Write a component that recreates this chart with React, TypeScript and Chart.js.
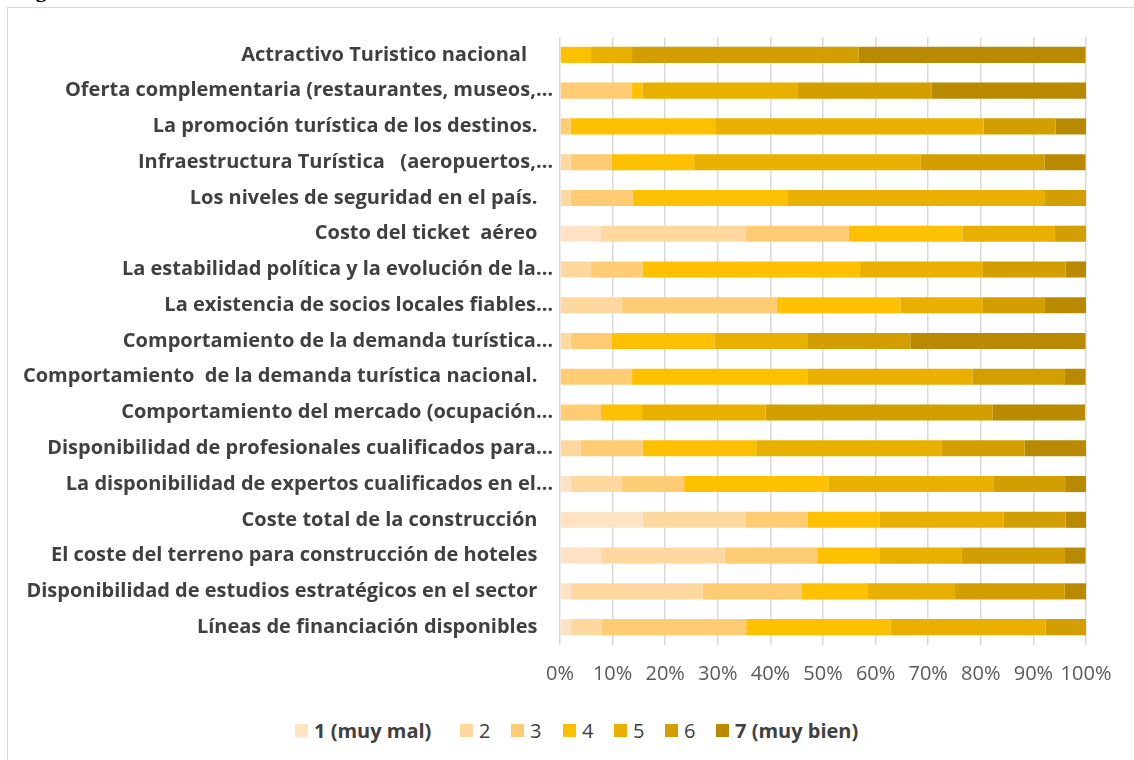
import React, { useEffect, useRef } from "react";
import { Chart, registerables } from "chart.js";

Chart.register(...registerables);

const categories = [
  "Actractivo Turistico nacional     ",
  "Oferta complementaria (restaurantes, museos,…",
  "La promoción turística de los destinos.   ",
  "Infraestructura Turística   (aeropuertos,…",
  "Los niveles de seguridad en el país.   ",
  "Costo del ticket  aéreo   ",
  "La estabilidad política y la evolución de la…",
  "La existencia de socios locales fiables…",
  "Comportamiento de la demanda turística…",
  "Comportamiento  de la demanda turística nacional.   ",
  "Comportamiento del mercado (ocupación…",
  "Disponibilidad de profesionales cualificados para…",
  "La disponibilidad de expertos cualificados en el…",
  "Coste total de la construcción   ",
  "El coste del terreno para construcción de hoteles   ",
  "Disponibilidad de estudios estratégicos en el sector   ",
  "Líneas de financiación disponibles   ",
];

const seriesNames = ["1 (muy mal)", "2", "3", "4", "5", "6", "7 (muy bien)"];

const s1 = [0, 0, 0, 0, 0, 7.8, 0, 0, 0, 0, 0, 0, 2.0, 15.7, 7.8, 2.1, 2.0];
const s2 = [0, 0, 0, 2.0, 2.0, 27.5, 5.9, 11.8, 2.0, 0, 0, 3.9, 9.8, 19.6, 23.5, 25.0, 5.9];
const s3 = [0, 13.7, 2.0, 7.8, 11.8, 19.6, 9.8, 29.4, 7.8, 13.7, 7.8, 11.8, 11.8, 11.8, 17.6, 18.8, 27.5];
const s4 = [5.9, 2.0, 27.5, 15.7, 29.4, 21.6, 41.2, 23.5, 19.6, 33.3, 7.8, 21.6, 27.5, 13.7, 11.8, 12.5, 27.5];
const s5 = [7.8, 29.4, 51.0, 43.1, 49.0, 17.6, 23.5, 15.7, 17.6, 31.4, 23.5, 35.3, 31.4, 23.5, 15.7, 16.7, 29.4];
const s6 = [43.1, 25.5, 13.7, 23.5, 7.8, 5.9, 15.7, 11.8, 19.6, 17.6, 43.1, 15.7, 13.7, 11.8, 19.6, 20.8, 7.8];
const s7 = [43.1, 29.4, 5.9, 7.8, 0, 0, 3.9, 7.8, 33.3, 3.9, 17.6, 11.8, 3.9, 3.9, 3.9, 4.2, 0];

const seriesValues = [s1, s2, s3, s4, s5, s6, s7];
const colors = ["#FFE3C4", "#FFD8A0", "#FFCC73", "#FFC000", "#E9B000", "#D29E00", "#B98A00"];

const xTicks = [0, 10, 20, 30, 40, 50, 60, 70, 80, 90, 100];

const legendLefts = [295, 460, 511, 563, 614, 665, 716];

export default function App() {
  const ref = useRef<HTMLCanvasElement | null>(null);

  useEffect(() => {
    if (!ref.current) return;
    const chart = new Chart(ref.current, {
      type: "bar",
      data: {
        labels: categories,
        datasets: seriesValues.map((vals, i) => ({
          label: seriesNames[i],
          data: vals,
          backgroundColor: colors[i],
          borderWidth: 0,
          categoryPercentage: 0.5,
          barPercentage: 0.9,
        })),
      },
      options: {
        indexAxis: "y",
        responsive: false,
        animation: false,
        layout: { padding: { top: 37, left: 0, right: 48, bottom: 0 } },
        plugins: {
          legend: { display: false },
          tooltip: { enabled: false },
        },
        scales: {
          x: {
            stacked: true,
            min: 0,
            max: 100,
            afterBuildTicks: (scale: any) => {
              scale.ticks = xTicks.map((v) => ({ value: v }));
            },
            afterFit: (scale: any) => {
              scale.height = 55;
            },
            grid: { color: "#D9D9D9", lineWidth: 1.5, drawTicks: false },
            border: { display: false },
            ticks: {
              autoSkip: false,
              maxRotation: 0,
              minRotation: 0,
              padding: 17,
              color: "#595959",
              font: { family: "'Open Sans'", size: 20 },
              callback: (v: any) => v + "%",
            },
          },
          y: {
            stacked: true,
            afterFit: (scale: any) => {
              scale.width = 560;
            },
            grid: { display: false, drawTicks: false },
            border: { display: false },
            ticks: {
              autoSkip: false,
              padding: 7,
              color: "#404040",
              font: { family: "'Open Sans'", size: 20, weight: "bold" },
            },
          },
        },
      },
    });
    return () => chart.destroy();
  }, []);

  return (
    <div style={{ position: "absolute", left: 0, top: 0, width: 1134, height: 760, overflow: "hidden", background: "#fff" }}>
      <span
        style={{
          position: "absolute",
          left: 16,
          top: -22,
          fontFamily: "'Liberation Serif', serif",
          fontWeight: "bold",
          fontSize: 22,
          lineHeight: "24px",
          color: "#000",
        }}
      >
        Figura
      </span>
      <div
        style={{
          position: "absolute",
          left: 7,
          top: 7,
          width: 1140,
          height: 770,
          border: "1px solid #D9D9D9",
          boxSizing: "border-box",
        }}
      />
      <canvas ref={ref} width={1134} height={700} style={{ position: "absolute", left: 0, top: 0, width: 1134, height: 700 }} />
      {seriesNames.map((name, i) => {
        const bold = i === 0 || i === seriesNames.length - 1;
        return (
          <div
            key={name}
            style={{
              position: "absolute",
              left: legendLefts[i],
              top: 716,
              height: 28,
              display: "flex",
              alignItems: "center",
              fontFamily: "'Open Sans', sans-serif",
              fontSize: 20,
              color: "#404040",
              whiteSpace: "nowrap",
            }}
          >
            <span style={{ display: "inline-block", width: 13, height: 13, background: colors[i], marginRight: 6 }} />
            <span style={{ fontWeight: bold ? "bold" : "normal" }}>{name}</span>
          </div>
        );
      })}
    </div>
  );
}
